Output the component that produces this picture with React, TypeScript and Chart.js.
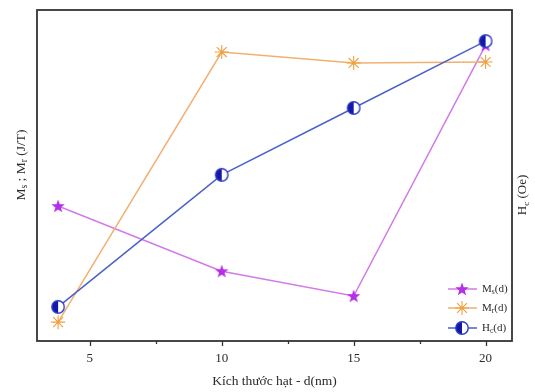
import { useEffect, useRef } from 'react';
import { Chart, registerables } from 'chart.js';

Chart.register(...registerables);

// Particle size (nm) and the three measured quantities (arbitrary units, no scale shown)
const sizes = [3.8, 10, 15, 20];
const msValues = [40.8, 21.1, 13.6, 89.4];
const mrValues = [5.7, 87.3, 84.0, 84.3];
const hcValues = [10.3, 50.2, 70.4, 90.6];
const majorTicks = [5, 10, 15, 20];
const minorTicks = [7.5, 12.5, 17.5];

const FONT = '"Liberation Serif", "DejaVu Serif", serif';
const TEXT = '#2a2a2a';

const MS_LINE = '#d27ae6';
const MS_MARK = '#b52ee8';
const MR_LINE = '#f2b070';
const MR_MARK = '#f0a040';
const HC_LINE = '#4a62c8';
const HC_FILL = '#1418a8';
const HC_EDGE = '#2a3cc0';

type Part = { t: string; sub?: boolean };

function makeStar(): HTMLCanvasElement {
  const c = document.createElement('canvas');
  c.width = 16;
  c.height = 16;
  const g = c.getContext('2d')!;
  g.beginPath();
  for (let i = 0; i < 10; i++) {
    const r = i % 2 === 0 ? 7 : 2.9;
    const a = -Math.PI / 2 + (i * Math.PI) / 5;
    const px = 8 + r * Math.cos(a);
    const py = 8.5 + r * Math.sin(a);
    if (i === 0) g.moveTo(px, py);
    else g.lineTo(px, py);
  }
  g.closePath();
  g.fillStyle = MS_MARK;
  g.fill();
  return c;
}

function makeHalfCircle(): HTMLCanvasElement {
  const c = document.createElement('canvas');
  c.width = 16;
  c.height = 16;
  const g = c.getContext('2d')!;
  const r = 6.2;
  g.beginPath();
  g.arc(8, 8, r, 0, Math.PI * 2);
  g.fillStyle = '#ffffff';
  g.fill();
  g.beginPath();
  g.arc(8, 8, r, Math.PI / 2, (Math.PI * 3) / 2);
  g.closePath();
  g.fillStyle = HC_FILL;
  g.fill();
  g.beginPath();
  g.arc(8, 8, r, 0, Math.PI * 2);
  g.lineWidth = 1.4;
  g.strokeStyle = HC_EDGE;
  g.stroke();
  return c;
}

function drawAsterisk(ctx: CanvasRenderingContext2D, x: number, y: number, r: number) {
  ctx.save();
  ctx.strokeStyle = MR_MARK;
  ctx.lineWidth = 1.1;
  ctx.beginPath();
  for (let i = 0; i < 4; i++) {
    const a = (i * Math.PI) / 4;
    ctx.moveTo(x + r * Math.cos(a), y + r * Math.sin(a));
    ctx.lineTo(x - r * Math.cos(a), y - r * Math.sin(a));
  }
  ctx.stroke();
  ctx.restore();
}

function richWidth(ctx: CanvasRenderingContext2D, parts: Part[], size: number) {
  let w = 0;
  for (const p of parts) {
    ctx.font = `${p.sub ? size * 0.7 : size}px ${FONT}`;
    w += ctx.measureText(p.t).width;
  }
  return w;
}

function drawRich(
  ctx: CanvasRenderingContext2D,
  parts: Part[],
  x: number,
  y: number,
  size: number,
  align: 'left' | 'center'
) {
  const w = richWidth(ctx, parts, size);
  let cx = align === 'center' ? x - w / 2 : x;
  ctx.textAlign = 'left';
  ctx.textBaseline = 'middle';
  ctx.fillStyle = TEXT;
  for (const p of parts) {
    ctx.font = `${p.sub ? size * 0.7 : size}px ${FONT}`;
    ctx.fillText(p.t, cx, p.sub ? y + size * 0.28 : y);
    cx += ctx.measureText(p.t).width;
  }
}

const leftTitle: Part[] = [
  { t: 'M' }, { t: 's', sub: true }, { t: ' ; M' }, { t: 'r', sub: true }, { t: ' (J/T)' },
];
const rightTitle: Part[] = [{ t: 'H' }, { t: 'c', sub: true }, { t: ' (Oe)' }];
const bottomTitle = 'Kích thước hạt - d(nm)';

export default function App() {
  const ref = useRef<HTMLCanvasElement | null>(null);

  useEffect(() => {
    const canvas = ref.current;
    if (!canvas) return;
    const starImg = makeStar();
    const halfImg = makeHalfCircle();

    const legendRows: { parts: Part[]; line: string; kind: 'star' | 'ast' | 'half' }[] = [
      { parts: [{ t: 'M' }, { t: 's', sub: true }, { t: '(d)' }], line: MS_LINE, kind: 'star' },
      { parts: [{ t: 'M' }, { t: 'r', sub: true }, { t: '(d)' }], line: MR_LINE, kind: 'ast' },
      { parts: [{ t: 'H' }, { t: 'c', sub: true }, { t: '(d)' }], line: HC_LINE, kind: 'half' },
    ];

    const decor = {
      id: 'decor',
      beforeDatasetsDraw(chart: Chart) {
        const { ctx, chartArea } = chart;
        const { left, top, right, bottom } = chartArea;
        const xs = chart.scales.x;
        ctx.save();
        ctx.strokeStyle = '#333333';
        ctx.lineWidth = 1.8;
        ctx.strokeRect(left, top, right - left, bottom - top);
        ctx.lineWidth = 1.3;
        ctx.beginPath();
        for (const v of majorTicks) {
          const px = Math.round(xs.getPixelForValue(v)) + 0.5;
          ctx.moveTo(px, bottom);
          ctx.lineTo(px, bottom + 5);
        }
        for (const v of minorTicks) {
          const px = Math.round(xs.getPixelForValue(v)) + 0.5;
          ctx.moveTo(px, bottom);
          ctx.lineTo(px, bottom + 3);
        }
        ctx.stroke();
        ctx.restore();
      },
      afterDraw(chart: Chart) {
        const { ctx, chartArea } = chart;
        const { left, right } = chartArea;
        ctx.save();
        // axis titles
        ctx.font = `13.5px ${FONT}`;
        ctx.fillStyle = TEXT;
        ctx.textAlign = 'center';
        ctx.textBaseline = 'middle';
        ctx.fillText(bottomTitle, (left + right) / 2, 381);

        ctx.save();
        ctx.translate(21, 165);
        ctx.rotate(-Math.PI / 2);
        drawRich(ctx, leftTitle, 0, 0, 13.5, 'center');
        ctx.restore();

        ctx.save();
        ctx.translate(523, 195);
        ctx.rotate(-Math.PI / 2);
        drawRich(ctx, rightTitle, 0, 0, 13, 'center');
        ctx.restore();

        // legend
        const rowY = [289, 308, 328];
        legendRows.forEach((row, i) => {
          const y = rowY[i];
          ctx.strokeStyle = row.line;
          ctx.lineWidth = 1.5;
          ctx.beginPath();
          ctx.moveTo(448, y);
          ctx.lineTo(477, y);
          ctx.stroke();
          if (row.kind === 'star') ctx.drawImage(starImg, 462 - 8, y - 8);
          else if (row.kind === 'half') ctx.drawImage(halfImg, 462 - 8, y - 8);
          else drawAsterisk(ctx, 462, y, 7);
          drawRich(ctx, row.parts, 482, y, 11, 'left');
        });
        ctx.restore();
      },
    };

    const chart = new Chart(canvas, {
      type: 'line',
      data: {
        datasets: [
          {
            label: 'Hc(d)',
            data: sizes.map((x, i) => ({ x, y: hcValues[i] })),
            borderColor: HC_LINE,
            borderWidth: 1.5,
            pointStyle: halfImg,
            yAxisID: 'y2',
            order: 0,
          },
          {
            label: 'Mr(d)',
            data: sizes.map((x, i) => ({ x, y: mrValues[i] })),
            borderColor: MR_LINE,
            borderWidth: 1.5,
            pointStyle: 'star',
            pointRadius: 7,
            pointBorderColor: MR_MARK,
            pointBorderWidth: 1.1,
            yAxisID: 'y',
            order: 1,
          },
          {
            label: 'Ms(d)',
            data: sizes.map((x, i) => ({ x, y: msValues[i] })),
            borderColor: MS_LINE,
            borderWidth: 1.5,
            pointStyle: starImg,
            yAxisID: 'y',
            order: 2,
          },
        ],
      },
      options: {
        responsive: false,
        animation: false,
        events: [],
        layout: { padding: { top: 10, left: 0, right: 0, bottom: 0 } },
        plugins: { legend: { display: false }, tooltip: { enabled: false } },
        scales: {
          x: {
            type: 'linear',
            min: 3,
            max: 21,
            afterBuildTicks: (s: any) => {
              s.ticks = [...majorTicks, ...minorTicks].sort((a, b) => a - b).map((v) => ({ value: v }));
            },
            afterFit: (s: any) => {
              s.height = 51;
            },
            grid: { display: false, drawTicks: false },
            border: { display: false },
            ticks: {
              autoSkip: false,
              maxRotation: 0,
              padding: 10,
              color: TEXT,
              font: { family: FONT, size: 13 },
              callback: (v: any) => (majorTicks.includes(Number(v)) ? String(v) : ''),
            },
          },
          y: {
            type: 'linear',
            position: 'left',
            min: 0,
            max: 100,
            afterFit: (s: any) => {
              s.width = 37;
            },
            grid: { display: false, drawTicks: false },
            border: { display: false },
            ticks: { display: false },
          },
          y2: {
            type: 'linear',
            position: 'right',
            min: 0,
            max: 100,
            afterFit: (s: any) => {
              s.width = 23;
            },
            grid: { display: false, drawTicks: false },
            border: { display: false },
            ticks: { display: false },
          },
        },
      },
      plugins: [decor],
    });

    return () => chart.destroy();
  }, []);

  return (
    <div style={{ position: 'absolute', left: 0, top: 0, width: 535, height: 392, background: '#fff' }}>
      <canvas ref={ref} width={535} height={392} style={{ display: 'block' }} />
    </div>
  );
}
